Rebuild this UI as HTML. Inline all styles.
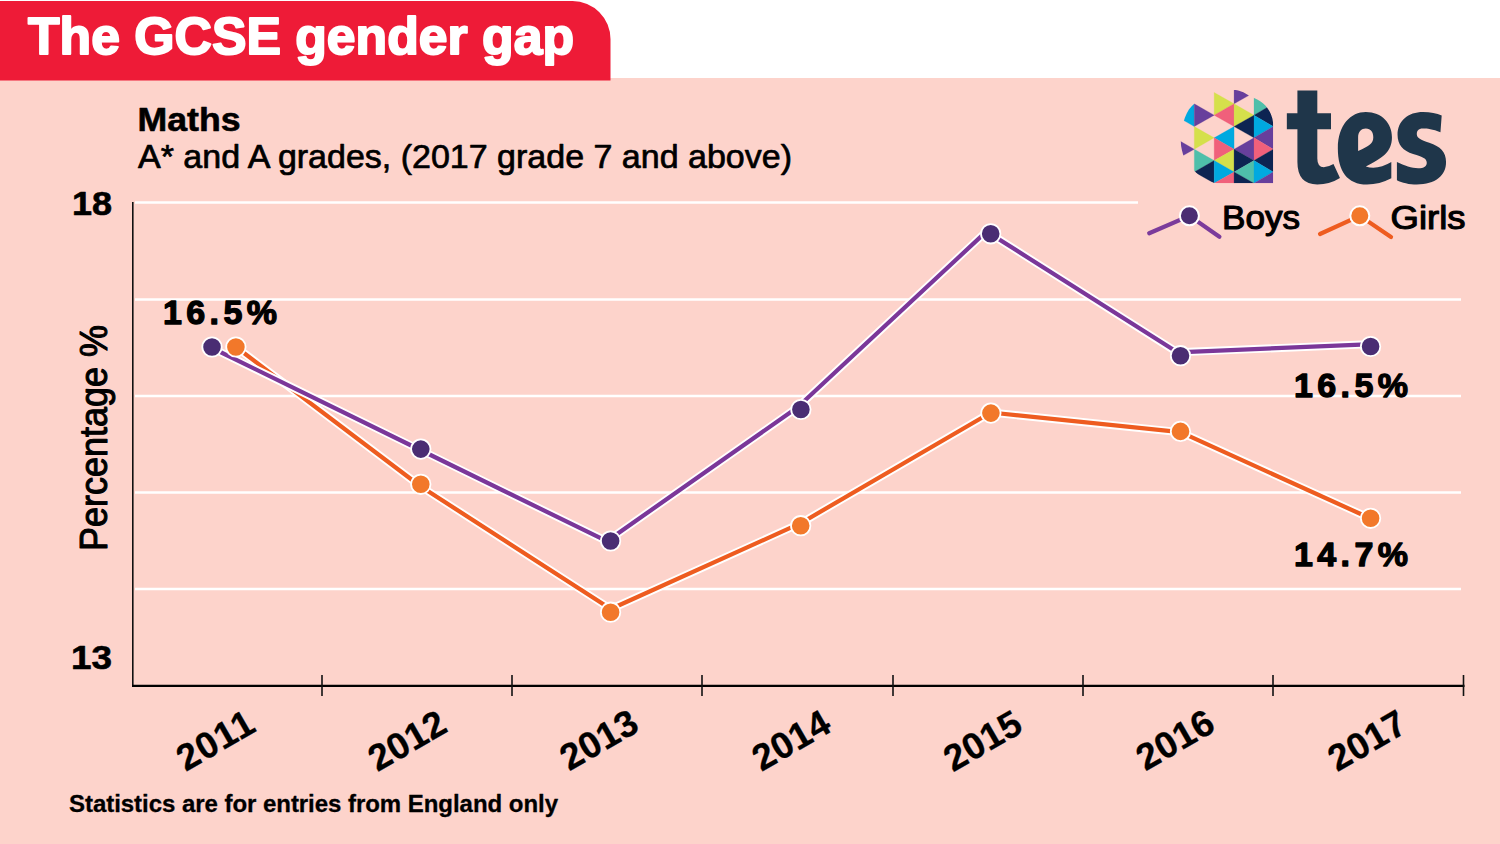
<!DOCTYPE html>
<html><head><meta charset="utf-8">
<style>
html,body{margin:0;padding:0;width:1500px;height:844px;overflow:hidden;background:#FDD3CB;}
svg{display:block;position:absolute;left:0;top:0;}
text{font-family:"Liberation Sans",sans-serif;stroke-linejoin:round;}
</style></head>
<body>
<svg width="1500" height="844" viewBox="0 0 1500 844">
  <rect x="0" y="0" width="1500" height="844" fill="#FDD3CB"/>
  <rect x="0" y="0" width="1500" height="78" fill="#FFFFFF"/>
  <path d="M0,1 L572.5,1 A38,38 0 0 1 610.5,39 L610.5,80.5 L0,80.5 Z" fill="#EE1B37"/>
  <text x="28" y="54" font-size="52" font-weight="bold" fill="#FFFFFF" stroke="#FFFFFF" stroke-width="2" textLength="546" lengthAdjust="spacingAndGlyphs">The GCSE gender gap</text>

  <text x="137.5" y="131.3" font-size="33" font-weight="bold" fill="#000" stroke="#000" stroke-width="0.6" textLength="103" lengthAdjust="spacingAndGlyphs">Maths</text>
  <text x="138" y="168.3" font-size="33" fill="#000" stroke="#000" stroke-width="0.7" textLength="654" lengthAdjust="spacingAndGlyphs">A* and A grades, (2017 grade 7 and above)</text>

  <!-- gridlines -->
  <g stroke="#FFFFFF" stroke-width="2.5">
    <line x1="135" y1="202.5" x2="1138" y2="202.5"/>
    <line x1="135" y1="299.5" x2="1461" y2="299.5"/>
    <line x1="135" y1="396" x2="1461" y2="396"/>
    <line x1="135" y1="492.5" x2="1461" y2="492.5"/>
    <line x1="135" y1="589" x2="1461" y2="589"/>
  </g>
  <!-- axes -->
  <g stroke="#111111" stroke-width="1.6" fill="none">
    <line x1="132.8" y1="202" x2="132.8" y2="686"/>
    <line x1="132" y1="685.9" x2="1464.5" y2="685.9" stroke="#000" stroke-width="2.2"/>
    <line x1="322" y1="675" x2="322" y2="696"/>
    <line x1="512" y1="675" x2="512" y2="696"/>
    <line x1="702" y1="675" x2="702" y2="696"/>
    <line x1="893" y1="675" x2="893" y2="696"/>
    <line x1="1083" y1="675" x2="1083" y2="696"/>
    <line x1="1273" y1="675" x2="1273" y2="696"/>
    <line x1="1463.5" y1="675" x2="1463.5" y2="696"/>
  </g>
  <text x="72" y="214.5" font-size="33" font-weight="bold" fill="#000" stroke="#000" stroke-width="0.6" textLength="40" lengthAdjust="spacingAndGlyphs">18</text>
  <text x="71" y="669" font-size="33" font-weight="bold" fill="#000" stroke="#000" stroke-width="0.6" textLength="41" lengthAdjust="spacingAndGlyphs">13</text>
  <text transform="translate(107,551) rotate(-90)" font-size="38" fill="#000" stroke="#000" stroke-width="1" textLength="226" lengthAdjust="spacingAndGlyphs">Percentage %</text>

  <!-- girls line -->
  <polyline points="236,347 420.8,486.5 610.8,609 800.7,523.2 990.9,412.5 1180.5,432.2 1370.6,518.5" fill="none" stroke="#FFFFFF" stroke-width="8" stroke-linejoin="round"/>
  <polyline points="236,347 420.8,486.5 610.8,609 800.7,523.2 990.9,412.5 1180.5,432.2 1370.6,518.5" fill="none" stroke="#EE5C20" stroke-width="4.2" stroke-linejoin="round"/>
  <!-- boys line -->
  <polyline points="209,346.5 417.3,448.5 606.8,541.2 797.3,407.5 986.5,231.4 1177.4,352.3 1367.1,344.3" fill="none" stroke="#FFFFFF" stroke-width="8" stroke-linejoin="round"/>
  <polyline points="209,346.5 417.3,448.5 606.8,541.2 797.3,407.5 986.5,231.4 1177.4,352.3 1367.1,344.3" fill="none" stroke="#7B3799" stroke-width="4.2" stroke-linejoin="round"/>

  <g fill="#F2782A" stroke="#FFFFFF" stroke-width="1.8">
    <circle cx="235.9" cy="347" r="9.7"/>
    <circle cx="420.8" cy="484.3" r="9.7"/>
    <circle cx="610.6" cy="612.2" r="9.7"/>
    <circle cx="800.7" cy="525.7" r="9.7"/>
    <circle cx="990.9" cy="413.1" r="9.7"/>
    <circle cx="1180.5" cy="431.4" r="9.7"/>
    <circle cx="1370.6" cy="518.3" r="9.7"/>
  </g>
  <g fill="#4A2D73" stroke="#FFFFFF" stroke-width="1.8">
    <circle cx="212" cy="347" r="9.7"/>
    <circle cx="420.8" cy="449.1" r="9.7"/>
    <circle cx="610.6" cy="541" r="9.7"/>
    <circle cx="800.9" cy="409.5" r="9.7"/>
    <circle cx="990.7" cy="233.8" r="9.7"/>
    <circle cx="1180.5" cy="355.7" r="9.7"/>
    <circle cx="1370.6" cy="346.5" r="9.7"/>
  </g>

  <!-- data labels -->
  <text x="163" y="324" font-size="34" font-weight="bold" fill="#000" stroke="#000" stroke-width="1.3" textLength="114" lengthAdjust="spacing">16.5%</text>
  <text x="1294" y="396.5" font-size="34" font-weight="bold" fill="#000" stroke="#000" stroke-width="1.3" textLength="114" lengthAdjust="spacing">16.5%</text>
  <text x="1294" y="566" font-size="34" font-weight="bold" fill="#000" stroke="#000" stroke-width="1.3" textLength="114" lengthAdjust="spacing">14.7%</text>

  <!-- x labels -->
  <g font-size="37" font-weight="bold" fill="#000" stroke="#000" stroke-width="0.3" text-anchor="middle">
    <text transform="translate(215.1,740.0) rotate(-30)" y="13" textLength="83" lengthAdjust="spacing">2011</text>
    <text transform="translate(406.9,740.3) rotate(-30)" y="13" textLength="83" lengthAdjust="spacing">2012</text>
    <text transform="translate(598.6,739.5) rotate(-30)" y="13" textLength="83" lengthAdjust="spacing">2013</text>
    <text transform="translate(790.9,740.0) rotate(-30)" y="13" textLength="83" lengthAdjust="spacing">2014</text>
    <text transform="translate(982.5,740.4) rotate(-30)" y="13" textLength="83" lengthAdjust="spacing">2015</text>
    <text transform="translate(1174.9,739.4) rotate(-30)" y="13" textLength="83" lengthAdjust="spacing">2016</text>
    <text transform="translate(1366.8,740.3) rotate(-30)" y="13" textLength="83" lengthAdjust="spacing">2017</text>
  </g>

  <text x="69" y="812" font-size="24" font-weight="bold" fill="#000" stroke="#000" stroke-width="0.3" textLength="489" lengthAdjust="spacing">Statistics are for entries from England only</text>

  <!-- legend -->
  <polyline points="1149.2,233.2 1189.4,215.8 1219.4,236.8" fill="none" stroke="#7B3B9B" stroke-width="4.2" stroke-linecap="round"/>
  <circle cx="1189.4" cy="215.8" r="9.5" fill="#4A2D73" stroke="#FFFFFF" stroke-width="2"/>
  <text x="1222" y="229" font-size="33" fill="#000" stroke="#000" stroke-width="1.1" textLength="78" lengthAdjust="spacingAndGlyphs">Boys</text>
  <polyline points="1320,234 1359.8,215.8 1391,237" fill="none" stroke="#EE5C20" stroke-width="4.2" stroke-linecap="round"/>
  <circle cx="1359.8" cy="215.8" r="9.5" fill="#F2782A" stroke="#FFFFFF" stroke-width="2"/>
  <text x="1390.5" y="229" font-size="33" fill="#000" stroke="#000" stroke-width="1.1" textLength="75" lengthAdjust="spacingAndGlyphs">Girls</text>

  <!-- logo placeholder -->
  <g id="logo" transform="translate(1175,85) scale(0.12440)">
    <defs><clipPath id="lc"><path d="M790,790 L790,330 C790,230 730,140 635,105 L600,90 C560,55 500,40 475,40 C330,30 200,90 155,150 C90,200 55,300 45,455 C55,560 80,620 155,690 C200,740 260,785 340,790 Z"/></clipPath></defs>
    <g clip-path="url(#lc)">
<path d="M155,151.25 L155,333.75 L-5,242.5 Z" fill="#00A9E0" stroke="#00A9E0" stroke-width="2"/>
<path d="M-5,425 L-5,607.5 L155,516.25 Z" fill="#673F9C" stroke="#673F9C" stroke-width="2"/>
<path d="M155,151.25 L155,333.75 L315,242.5 Z" fill="#673F9C" stroke="#673F9C" stroke-width="2"/>
<path d="M155,333.75 L155,516.25 L315,425 Z" fill="#D5E04B" stroke="#D5E04B" stroke-width="2"/>
<path d="M155,516.25 L155,698.75 L315,607.5 Z" fill="#4FBFAA" stroke="#4FBFAA" stroke-width="2"/>
<path d="M315,607.5 L315,790 L155,698.75 Z" fill="#0D2452" stroke="#0D2452" stroke-width="2"/>
<path d="M315,60 L315,242.5 L475,151.25 Z" fill="#D5E04B" stroke="#D5E04B" stroke-width="2"/>
<path d="M475,151.25 L475,333.75 L315,242.5 Z" fill="#F0607B" stroke="#F0607B" stroke-width="2"/>
<path d="M475,333.75 L475,516.25 L315,425 Z" fill="#00A9E0" stroke="#00A9E0" stroke-width="2"/>
<path d="M315,425 L315,607.5 L475,516.25 Z" fill="#F0607B" stroke="#F0607B" stroke-width="2"/>
<path d="M475,516.25 L475,698.75 L315,607.5 Z" fill="#D5E04B" stroke="#D5E04B" stroke-width="2"/>
<path d="M315,607.5 L315,790 L475,698.75 Z" fill="#00A9E0" stroke="#00A9E0" stroke-width="2"/>
<path d="M475,698.75 L475,881.25 L315,790 Z" fill="#F0607B" stroke="#F0607B" stroke-width="2"/>
<path d="M475,-31.25 L475,151.25 L635,60 Z" fill="#673F9C" stroke="#673F9C" stroke-width="2"/>
<path d="M475,151.25 L475,333.75 L635,242.5 Z" fill="#D5E04B" stroke="#D5E04B" stroke-width="2"/>
<path d="M635,242.5 L635,425 L475,333.75 Z" fill="#0D2452" stroke="#0D2452" stroke-width="2"/>
<path d="M635,425 L635,607.5 L475,516.25 Z" fill="#673F9C" stroke="#673F9C" stroke-width="2"/>
<path d="M475,516.25 L475,698.75 L635,607.5 Z" fill="#0D2452" stroke="#0D2452" stroke-width="2"/>
<path d="M635,607.5 L635,790 L475,698.75 Z" fill="#4FBFAA" stroke="#4FBFAA" stroke-width="2"/>
<path d="M475,698.75 L475,881.25 L635,790 Z" fill="#0D2452" stroke="#0D2452" stroke-width="2"/>
<path d="M635,60 L635,242.5 L790,151.25 Z" fill="#4FBFAA" stroke="#4FBFAA" stroke-width="2"/>
<path d="M790,151.25 L790,333.75 L635,242.5 Z" fill="#0D2452" stroke="#0D2452" stroke-width="2"/>
<path d="M635,242.5 L635,425 L790,333.75 Z" fill="#00A9E0" stroke="#00A9E0" stroke-width="2"/>
<path d="M790,333.75 L790,516.25 L635,425 Z" fill="#673F9C" stroke="#673F9C" stroke-width="2"/>
<path d="M635,425 L635,607.5 L790,516.25 Z" fill="#F0607B" stroke="#F0607B" stroke-width="2"/>
<path d="M790,516.25 L790,698.75 L635,607.5 Z" fill="#0D2452" stroke="#0D2452" stroke-width="2"/>
<path d="M635,607.5 L635,790 L790,698.75 Z" fill="#00A9E0" stroke="#00A9E0" stroke-width="2"/>
<path d="M790,698.75 L790,881.25 L635,790 Z" fill="#673F9C" stroke="#673F9C" stroke-width="2"/>
    </g>
  </g>
  <g transform="translate(1280,85) scale(0.12438)" fill="#1F364A" fill-rule="evenodd">
    <path d="M140,45 L300,45 L300,228 L410,228 L410,355 L300,355 L300,590 Q300,665 360,660 Q395,655 430,635 L482,748 Q400,800 300,800 Q140,800 140,620 L140,355 L55,355 L55,228 L140,228 Z"/>
    <path d="M895,620 L895,750 Q800,800 700,800 C540,800 465,690 465,510 C465,320 570,218 690,218 C820,218 900,310 900,420 C900,540 820,590 690,655 Q720,665 750,665 Q820,665 895,620 Z M628,530 L628,420 C628,375 655,350 690,350 C730,350 750,380 750,420 C750,470 720,490 628,530 Z"/>
    <path d="M1300,245 L1290,380 C1230,355 1180,350 1150,350 C1110,350 1100,370 1100,395 C1100,425 1130,440 1200,465 C1290,495 1335,540 1335,620 C1335,730 1250,800 1100,800 C1040,800 980,785 940,765 L940,620 C1000,650 1060,670 1110,670 C1160,670 1180,650 1180,625 C1180,590 1150,580 1070,555 C990,530 945,480 945,400 C945,290 1030,218 1150,218 C1210,218 1260,230 1300,245 Z"/>
  </g>
</svg>
</body></html>
